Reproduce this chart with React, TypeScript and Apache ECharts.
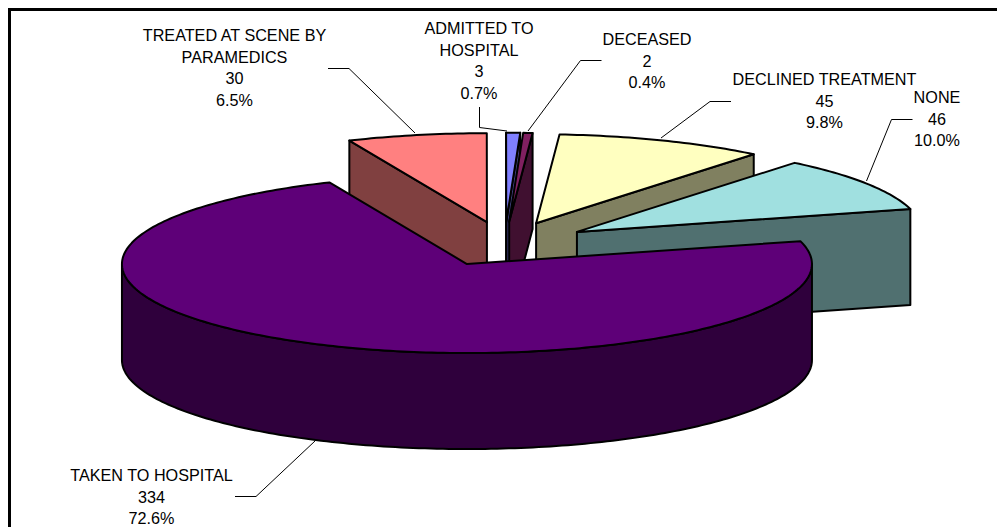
import React, { useEffect, useRef } from "react";
import * as echarts from "echarts";

const categories = ["TAKEN TO HOSPITAL", "NONE", "DECLINED TREATMENT", "DECEASED", "ADMITTED TO HOSPITAL", "TREATED AT SCENE BY PARAMEDICS"];
const values = [334, 46, 45, 2, 3, 30];
const percentLabels = ["72.6%", "10.0%", "9.8%", "0.4%", "0.7%", "6.5%"];
const nameLines = [
  ["TAKEN TO HOSPITAL"],
  ["NONE"],
  ["DECLINED TREATMENT"],
  ["DECEASED"],
  ["ADMITTED TO", "HOSPITAL"],
  ["TREATED AT SCENE BY", "PARAMEDICS"],
];
const topColors = ["#5e0078", "#a0e0e0", "#ffffc0", "#802060", "#8080ff", "#ff8080"];
const wallColors = ["#2f003c", "#507070", "#808060", "#401030", "#404080", "#804040"];
const labelCenterX = [151.5, 937, 824.5, 647, 479, 234.5];
const labelFirstLineY = [475, 97, 79, 39, 28, 35];
const leaders = [
  [[235, 496.5], [256, 496.5], [315, 441]],
  [[912.5, 119.5], [891.5, 119.5], [866.5, 181]],
  [[731, 101.5], [710, 101.5], [661, 138]],
  [[601.5, 60.5], [580.5, 60.5], [528, 131]],
  [[479.5, 107], [479.5, 127.5], [507, 131]],
  [[328, 68.5], [349, 68.5], [415, 133]],
];

const CX = 504.5;
const CY = 244;
const RX = 345;
const RY = 89;
const DEPTH = 96;
const EXPLODE = 0.25;
const START_ANGLE = 113.5;
const LINE_STEP = 21.6;
const FONT = '16.2px "Liberation Sans", Arial, sans-serif';

const total = values.reduce((a, b) => a + b, 0);
const rad = (d: number) => (d * Math.PI) / 180;

function renderSlice(params: any) {
  const i = params.dataIndex;
  const before = values.slice(0, i).reduce((a, b) => a + b, 0);
  const a0 = START_ANGLE + (before / total) * 360;
  const a1 = a0 + (values[i] / total) * 360;
  const mid = (a0 + a1) / 2;
  const cx = CX + EXPLODE * RX * Math.cos(rad(mid));
  const cy = CY - EXPLODE * RY * Math.sin(rad(mid));
  const at = (a: number): number[] => [cx + RX * Math.cos(rad(a)), cy - RY * Math.sin(rad(a))];
  const arc = (from: number, to: number): number[][] => {
    const pts: number[][] = [];
    const n = Math.max(2, Math.ceil(to - from));
    for (let k = 0; k <= n; k++) pts.push(at(from + ((to - from) * k) / n));
    return pts;
  };
  const down = (p: number[]) => [p[0], p[1] + DEPTH];
  const shape = (points: number[][], fill: string) => ({
    type: "polygon",
    shape: { points },
    style: { fill, stroke: "#000", lineWidth: 2, lineJoin: "round" },
  });
  const children: any[] = [];
  const c = [cx, cy];
  if (Math.cos(rad(a0)) > 0) {
    const p = at(a0);
    children.push(shape([c, p, down(p), down(c)], wallColors[i]));
  }
  if (Math.cos(rad(a1)) < 0) {
    const p = at(a1);
    children.push(shape([c, p, down(p), down(c)], wallColors[i]));
  }
  const from = Math.max(a0, 180);
  const to = Math.min(a1, 360);
  if (to > from) {
    const rim = arc(from, to);
    children.push(shape([...rim, ...rim.slice().reverse().map(down)], wallColors[i]));
  }
  children.push(shape([c, ...arc(a0, a1)], topColors[i]));

  children.push({
    type: "polyline",
    shape: { points: leaders[i] },
    style: { fill: "none", stroke: "#000", lineWidth: 1 },
  });
  const lines = [...nameLines[i], String(values[i]), percentLabels[i]];
  lines.forEach((text, k) => {
    children.push({
      type: "text",
      x: labelCenterX[i],
      y: labelFirstLineY[i] + k * LINE_STEP,
      style: { text, font: FONT, fill: "#000", textAlign: "center", textVerticalAlign: "middle" },
    });
  });
  return { type: "group", children };
}

export default function App() {
  const ref = useRef<HTMLDivElement>(null);
  useEffect(() => {
    const chart = echarts.init(ref.current!, null, { renderer: "svg" });
    chart.setOption({
      animation: false,
      backgroundColor: "#fff",
      graphic: [
        {
          type: "polyline",
          shape: { points: [[9.5, 527], [9.5, 9.5], [997, 9.5]] },
          style: { fill: "none", stroke: "#000", lineWidth: 3 },
        },
      ],
      series: [
        {
          type: "custom",
          coordinateSystem: "none",
          renderItem: (params: any) => renderSlice({ dataIndex: categories.length - 1 - params.dataIndex }),
          data: categories.slice().reverse().map((name, k) => ({ name, value: [values[categories.length - 1 - k]] })),
          silent: true,
        },
      ],
    });
    return () => chart.dispose();
  }, []);
  return <div ref={ref} style={{ position: "fixed", left: 0, top: 0, width: 997, height: 527 }} />;
}
